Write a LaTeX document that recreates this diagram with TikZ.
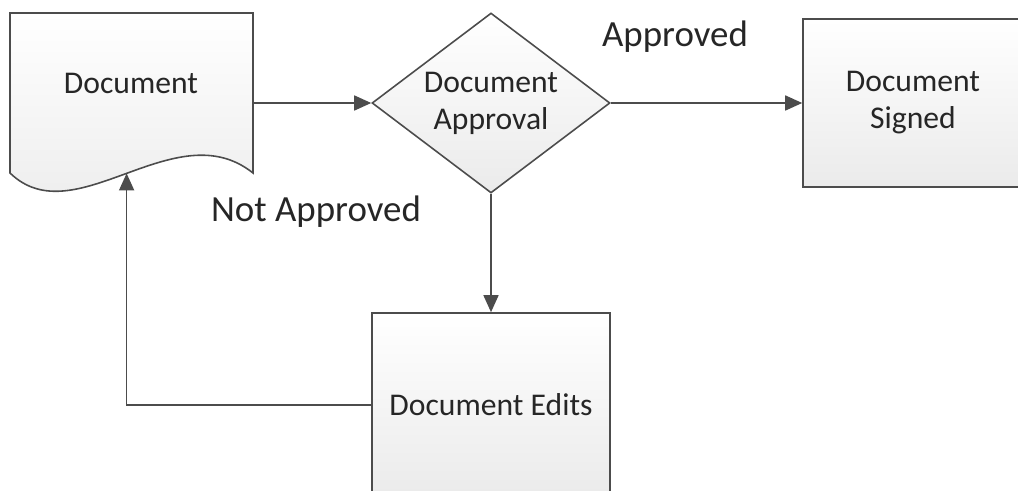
\documentclass[tikz,border=0pt]{standalone}
\usepackage{fontspec}
\setmainfont{Carlito}
\usetikzlibrary{arrows.meta, positioning, shapes.geometric}

\begin{document}
\begin{tikzpicture}[
    box/.style={rectangle, draw=black!70, line width=0.9pt, top color=white,
                bottom color=black!8, inner sep=0pt, align=center,
                font=\fontsize{18}{21}\selectfont, text=black!85},
    decide/.style={diamond, draw=black!70, line width=0.9pt, top color=white,
                bottom color=black!8, inner sep=0pt, align=center, shape aspect=1.32,
                minimum width=4.76cm, minimum height=3.6cm,
                font=\fontsize{18}{21}\selectfont, text=black!85},
    lbl/.style={font=\fontsize{21}{25}\selectfont, text=black!85},
    arr/.style={-{Triangle[length=3.4mm, width=3mm]}, line width=0.9pt, draw=black!70},
]
\path[use as bounding box, clip] (0,0) rectangle (20.36,9.82);
% document shape with wavy bottom
\draw[draw=black!70, line width=0.9pt, top color=white, bottom color=black!8]
    (0.2,9.56) -- (5.06,9.56) -- (5.06,6.36)
    .. controls (3.5,7.6) and (1.5,5.1) .. coordinate[pos=0.5] (docwave) (0.2,6.36) -- cycle;
\node[font=\fontsize{18}{21}\selectfont, text=black!85] (doc) at (2.62,8.16) {Document};
\coordinate (docright) at (5.06,7.76);
\node[decide] (appr)   at (9.82,7.76)  {Document\\Approval};
\node[box, minimum width=4.4cm, minimum height=3.36cm] (signed) at (18.26,7.76) {Document\\Signed};
\node[box, minimum width=4.76cm, minimum height=3.68cm] (edits) at (9.82,1.72) {Document Edits};
\node[lbl] (yes) at (13.5,9.08) {Approved};
\node[lbl] (no)  at (6.32,5.58) {Not Approved};
\draw[arr] (docright) -- (appr.west);
\draw[arr] (appr.east) -- (signed.west);
\draw[arr] (appr.south) -- (edits.north);
\draw[arr] (edits.west) -| (docwave);
\end{tikzpicture}
\end{document}
